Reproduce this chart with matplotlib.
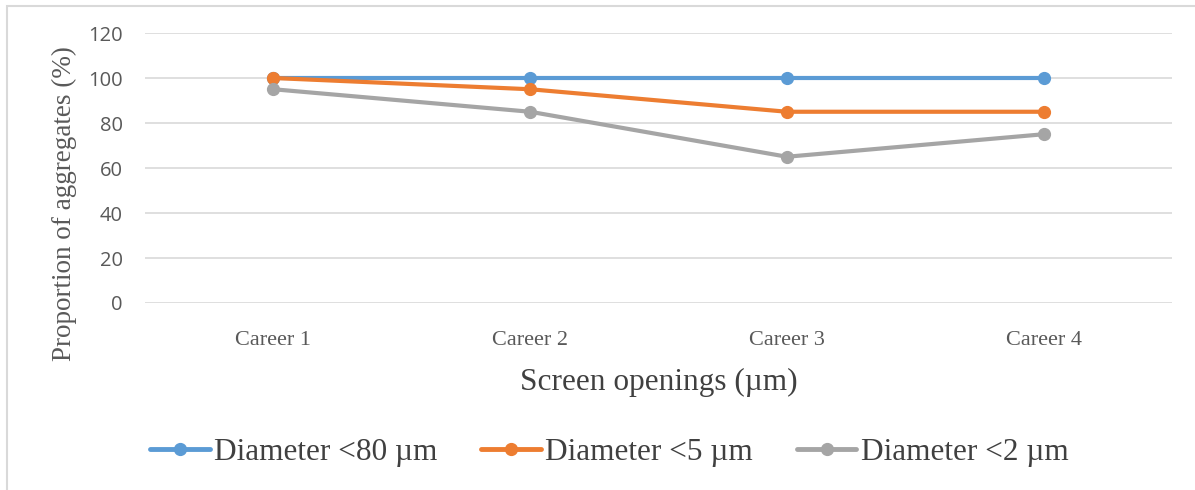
import matplotlib.pyplot as plt
from matplotlib.patches import Rectangle

careers = ['Career 1', 'Career 2', 'Career 3', 'Career 4']
d80 = [100, 100, 100, 100]
d5 = [100, 95, 85, 85]
d2 = [95, 85, 65, 75]

series = [('Diameter <80 µm', d80, '#5b9bd5'),
          ('Diameter <5 µm', d5, '#ed7d31'),
          ('Diameter <2 µm', d2, '#a5a5a5')]

fig = plt.figure(figsize=(11.95, 4.9), dpi=100)
ax = fig.add_axes([145/1195, 1 - 303/490, 1027/1195, 270/490])

x = range(len(careers))
for name, vals, col in series:
    ax.plot(x, vals, color=col, lw=3, marker='o', ms=8.5, label=name,
            solid_capstyle='round')

ax.set_xlim(-0.5, 3.5)
ax.set_ylim(0, 120)
ax.set_yticks(range(0, 121, 20))
ax.set_yticklabels([str(v) for v in range(0, 121, 20)],
                   fontfamily='Open Sans', fontsize=14.5, color='#595959')
ax.set_xticks(list(x))
ax.set_xticklabels(careers, fontfamily='Liberation Serif', fontsize=16, color='#595959')
ax.tick_params(axis='y', length=0, pad=16)
ax.tick_params(axis='x', length=0, pad=20)
ax.grid(axis='y', color='#d9d9d9', lw=1.2)
ax.set_axisbelow(True)
for s in ax.spines.values():
    s.set_visible(False)

ax.set_ylabel('Proportion of aggregates (%)', fontfamily='Liberation Serif',
              fontsize=19.5, color='#595959')
ax.yaxis.set_label_coords(-68/1027, 0.37)
ax.set_xlabel('Screen openings (µm)', fontfamily='Liberation Serif',
              fontsize=22.5, color='#404040')
ax.xaxis.set_label_coords(0.5, -0.24)

leg = fig.legend(loc='center', bbox_to_anchor=(0.51, 1 - 452/490), ncol=3,
                 frameon=False, prop={'family': 'Liberation Serif', 'size': 22.5},
                 handlelength=1.9, columnspacing=1.4, handletextpad=0.15)
for t in leg.get_texts():
    t.set_color('#404040')
for h in leg.legend_handles:
    h.set_linewidth(3.5)

fig.patches.append(Rectangle((7/1195, -0.01), 1.01, 1 - 6/490 + 0.01,
                             transform=fig.transFigure, fill=False,
                             edgecolor='#d9d9d9', lw=1.5))

fig.savefig('out.png', dpi=100)
